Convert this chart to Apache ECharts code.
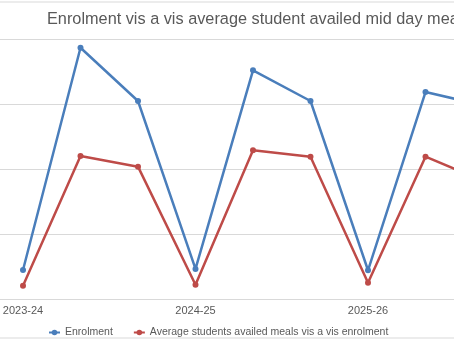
<!DOCTYPE html>
<html>
<head>
<meta charset="utf-8">
<script src="https://cdn.jsdelivr.net/npm/echarts@6/dist/echarts.min.js"></script>
<style>
html,body{margin:0;padding:0;background:#fff;}
#c{width:454px;height:341px;}
</style>
</head>
<body>
<div id="c"></div>
<script>
var titleText = "Enrolment vis a vis average student availed mid day meals";
var categories = ["2023-24", "", "", "2024-25", "", "", "2025-26", "", ""];
var seriesNames = ["Enrolment", "Average students availed meals vis a vis enrolment"];
var enrolment = [22.3, 193.3, 152.3, 23.1, 175.9, 152.3, 22.1, 159.2, 149];
var availed = [10.2, 110, 101.8, 11, 114.4, 109.5, 12.5, 109.5, 91];
var yTicks = {min: 0, max: 200, interval: 50};

var chart = echarts.init(document.getElementById('c'), null, {renderer: 'canvas'});
var font = "'Liberation Sans', Arial, sans-serif";
chart.setOption({
  animation: false,
  backgroundColor: '#ffffff',
  title: {
    text: titleText, left: 42, top: 7,
    textStyle: {fontFamily: font, fontSize: 16.3, fontWeight: 'normal', color: '#595959'}
  },
  legend: {
    data: seriesNames, left: 43, top: 322, itemGap: 20, itemWidth: 11, itemHeight: 7,
    textStyle: {fontFamily: font, fontSize: 10.5, color: '#595959'}
  },
  grid: {left: -5.75, width: 517.5, top: 39, bottom: 42, containLabel: false, outerBoundsMode: 'none'},
  xAxis: {
    type: 'category', data: categories, boundaryGap: true,
    axisLine: {lineStyle: {color: '#d9d9d9', width: 1}},
    axisTick: {show: false},
    axisLabel: {interval: 0, color: '#595959', fontFamily: font, fontSize: 11, margin: 6}
  },
  yAxis: {
    type: 'value', min: yTicks.min, max: yTicks.max, interval: yTicks.interval,
    axisLabel: {show: false}, axisLine: {show: false}, axisTick: {show: false},
    splitLine: {lineStyle: {color: '#d9d9d9', width: 1}}
  },
  graphic: [
    {type: 'line', shape: {x1: 0, y1: 2, x2: 454, y2: 2}, style: {stroke: '#d9d9d9', lineWidth: 1}},
    {type: 'line', shape: {x1: 0, y1: 338, x2: 454, y2: 338}, style: {stroke: '#d9d9d9', lineWidth: 1}}
  ],
  series: [
    {name: seriesNames[0], type: 'line', data: enrolment, color: '#4A7EBB',
     symbol: 'circle', symbolSize: 6, lineStyle: {width: 2.5, color: '#4A7EBB'}, itemStyle: {color: '#4A7EBB'}},
    {name: seriesNames[1], type: 'line', data: availed, color: '#BE4B48',
     symbol: 'circle', symbolSize: 6, lineStyle: {width: 2.5, color: '#BE4B48'}, itemStyle: {color: '#BE4B48'}}
  ]
});
</script>
</body>
</html>
